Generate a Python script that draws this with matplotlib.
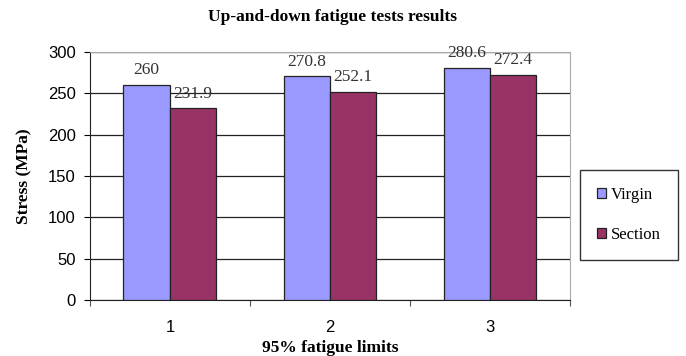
import numpy as np
import matplotlib
matplotlib.use('Agg')
import matplotlib.pyplot as plt

groups = ['1', '2', '3']
virgin = [260, 270.8, 280.6]
section = [231.9, 252.1, 272.4]
labels_virgin = ['260', '270.8', '280.6']
labels_section = ['231.9', '252.1', '272.4']

serif = 'Liberation Serif'
sans = 'Liberation Sans'

fig = plt.figure(figsize=(6.86, 3.56), dpi=100)
ax = fig.add_axes([0.131, 0.157, 0.70, 0.697])

x = np.arange(1, len(groups) + 1)
w = 0.29
b1 = ax.bar(x - w/2, virgin, w, color='#9999ff', edgecolor='#222222', lw=0.9,
            label='Virgin', zorder=3)
b2 = ax.bar(x + w/2, section, w, color='#993366', edgecolor='#222222', lw=0.9,
            label='Section', zorder=3)

# value labels above each bar
for rect, txt in zip(b1, labels_virgin):
    ax.text(rect.get_x() + rect.get_width()/2, rect.get_height() + 8, txt,
            ha='center', va='bottom', fontsize=12.5, family=serif, color='#333333')
for rect, txt in zip(b2, labels_section):
    ax.text(rect.get_x() + rect.get_width()/2, rect.get_height() + 8, txt,
            ha='center', va='bottom', fontsize=12.5, family=serif, color='#333333')

ax.set_xlim(0.5, 3.5)
ax.set_ylim(0, 300)
ax.set_yticks(np.arange(0, 301, 50))
ax.yaxis.grid(True, color='#222222', lw=0.9, zorder=0)
ax.set_axisbelow(True)

# category boundaries carry the ticks, labels sit at the centres
ax.set_xticks([0.5, 1.5, 2.5, 3.5])
ax.set_xticklabels([])
ax.set_xticks(x, minor=True)
ax.set_xticklabels(groups, minor=True, fontsize=12, family=sans)
ax.tick_params(axis='x', which='minor', length=0, pad=14)
ax.tick_params(axis='x', which='major', length=4, color='#555555')
ax.tick_params(axis='y', length=4, labelsize=12, pad=6)
for lab in ax.get_yticklabels():
    lab.set_family(sans)

ax.spines['left'].set_color('#222222')
ax.spines['bottom'].set_color('#222222')
ax.spines['top'].set_color('#aaaaaa')
ax.spines['right'].set_color('#aaaaaa')

ax.set_ylabel('Stress (MPa)', family=serif, fontsize=12.5, fontweight='bold', labelpad=11)
ax.set_xlabel('95% fatigue limits', family=serif, fontsize=12.5, fontweight='bold', labelpad=4)
fig.text(0.485, 0.953, 'Up-and-down fatigue tests results', ha='center', va='center',
         family=serif, fontsize=12.5, fontweight='bold')

leg = fig.legend(loc='center left', bbox_to_anchor=(0.845, 0.396), frameon=True,
                 fancybox=False, edgecolor='black', prop={'family': serif, 'size': 12},
                 handlelength=0.55, handleheight=0.55, handletextpad=0.25,
                 labelspacing=1.4, borderpad=1.05, borderaxespad=0)
leg.get_frame().set_linewidth(1.0)

fig.savefig('out.png', dpi=100)
